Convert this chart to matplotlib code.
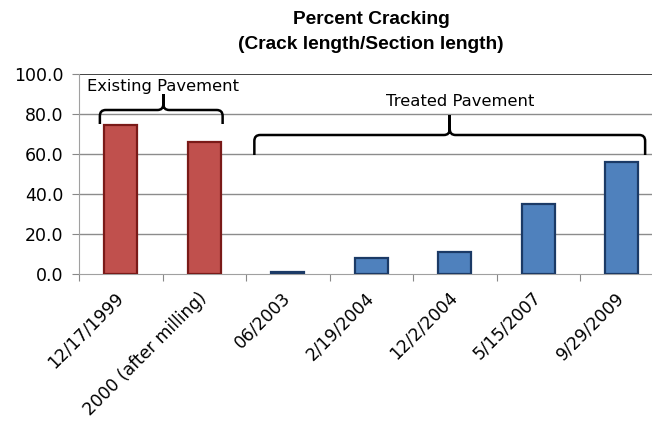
import matplotlib
matplotlib.use('Agg')
import matplotlib.pyplot as plt
import numpy as np
from matplotlib.patches import PathPatch
from matplotlib.path import Path

categories = [
    '12/17/1999',
    '2000 (after milling)',
    '06/2003',
    '2/19/2004',
    '12/2/2004',
    '5/15/2007',
    '9/29/2009',
]
percent_cracking = [74.5, 66.0, 0.8, 7.8, 10.8, 35.0, 56.0]
group = ['existing', 'existing', 'treated', 'treated', 'treated', 'treated', 'treated']

GROUP_STYLE = {
    'existing': {'face': '#C0504D', 'edge': '#7A1A18'},
    'treated': {'face': '#4F81BD', 'edge': '#1B3A66'},
}

# brace: label, left, centre, right (category units), tip, bar, peak, label y (data units)
braces = [
    ('Existing Pavement', -0.25, 0.51, 1.22, 75.0, 82.0, 90.0, 0.51, 93.5),
    ('Treated Pavement', 1.60, 3.94, 6.28, 59.5, 69.5, 79.5, 4.06, 86.5),
]

yticks = [0, 20, 40, 60, 80, 100]


def draw_brace(ax, x0, xc, x1, y_tip, y_bar, y_peak):
    rx, ry = 0.07, 3.0
    verts = [
        (x0, y_tip), (x0, y_bar - ry),
        (x0, y_bar), (x0 + rx, y_bar),
        (xc - rx, y_bar),
        (xc, y_bar), (xc, y_bar + ry),
        (xc, y_peak),
        (xc, y_bar + ry),
        (xc, y_bar), (xc + rx, y_bar),
        (x1 - rx, y_bar),
        (x1, y_bar), (x1, y_bar - ry),
        (x1, y_tip),
    ]
    codes = [
        Path.MOVETO, Path.LINETO,
        Path.CURVE3, Path.CURVE3,
        Path.LINETO,
        Path.CURVE3, Path.CURVE3,
        Path.LINETO,
        Path.LINETO,
        Path.CURVE3, Path.CURVE3,
        Path.LINETO,
        Path.CURVE3, Path.CURVE3,
        Path.LINETO,
    ]
    patch = PathPatch(Path(verts, codes), facecolor='none', edgecolor='black',
                      linewidth=1.8, capstyle='butt', joinstyle='miter', zorder=5)
    ax.add_patch(patch)


fig = plt.figure(figsize=(6.52, 4.30), dpi=100)
# plot area is cut off at the right edge in the source image
ax = fig.add_axes([79 / 652, 1 - 274 / 430, 584.5 / 652, 200 / 430])

x = np.arange(len(categories))
faces = [GROUP_STYLE[g]['face'] for g in group]
edges = [GROUP_STYLE[g]['edge'] for g in group]
ax.bar(x, percent_cracking, width=0.4, color=faces, edgecolor=edges, linewidth=1.6, zorder=3)

ax.set_xlim(-0.5, len(categories) - 0.5)
ax.set_ylim(0, 100)
ax.set_yticks(yticks)
ax.set_yticklabels([f'{v:.1f}' for v in yticks], fontsize=12.5)
for v in yticks[1:-1]:
    ax.axhline(v, color='#8c8c8c', linewidth=1.0, zorder=1)
ax.axhline(100, color='#222222', linewidth=1.2, zorder=1)

ax.set_xticks(np.arange(len(categories) + 1) - 0.5)
ax.set_xticklabels([])
ax.set_xticks(x, minor=True)
ax.set_xticklabels(categories, minor=True, rotation=45, ha='right', va='center',
                   rotation_mode='anchor', fontsize=12.3)
ax.tick_params(axis='x', which='major', direction='out', length=5, color='#888888')
ax.tick_params(axis='x', which='minor', length=0, pad=15)
ax.tick_params(axis='y', direction='out', length=5, color='#888888', pad=6)

for side in ('top', 'right'):
    ax.spines[side].set_visible(False)
ax.spines['left'].set_color('#a0a0a0')
ax.spines['bottom'].set_color('#a0a0a0')

for label, x0, xc, x1, y_tip, y_bar, y_peak, tx, ty in braces:
    draw_brace(ax, x0, xc, x1, y_tip, y_bar, y_peak)
    ax.text(tx, ty, label, ha='center', va='center', fontsize=11.8, zorder=6)

fig.text(371 / 652, 1 - 32 / 430, 'Percent Cracking\n(Crack length/Section length)',
         ha='center', va='center', fontsize=13.8, fontweight='bold',
         family='Liberation Sans', linespacing=1.6)

fig.savefig('out.png', dpi=100, facecolor='white')
